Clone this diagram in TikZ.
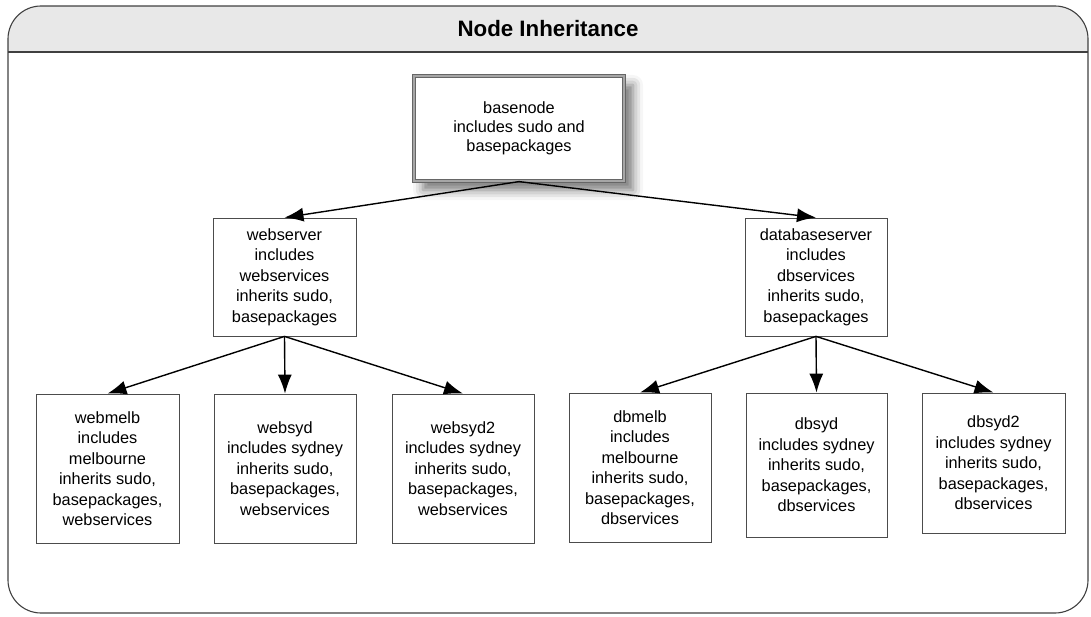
\documentclass[tikz,border=0pt]{standalone}
\usepackage{fontspec}
\setmainfont{Liberation Sans}
\usetikzlibrary{arrows.meta,shadows.blur}
\begin{document}
\begin{tikzpicture}[x=1pt,y=-1pt,
  box/.style={draw=black!70, line width=0.8pt, fill=white, inner sep=0pt, align=center,
    font=\fontsize{16.3}{20.5}\selectfont, text=black},
  basebox/.style={box, draw=black!60, line width=1.2pt, double=black!35, double distance=1.4pt,
    font=\fontsize{16.3}{19}\selectfont,
    blur shadow={shadow xshift=9pt, shadow yshift=-9pt, shadow blur radius=10pt, shadow opacity=55}},
  arr/.style={-{Latex[length=19pt,width=14pt]}, line width=1.4pt, black},
  frame/.style={draw=black!75, line width=1.1pt}]
\useasboundingbox (0,0) rectangle (1091,617);
% frame and header
\begin{scope}
  \clip[rounded corners=33pt] (8,6) rectangle (1088,613);
  \fill[black!9] (8,6) rectangle (1088,52);
\end{scope}
\draw[frame, rounded corners=33pt] (8,6) rectangle (1088,613);
\draw[frame] (8,52) -- (1088,52);
\node[font=\fontsize{22.3}{24}\selectfont\bfseries] (title) at (548,29) {Node Inheritance};
% nodes
\node[basebox, minimum width=210pt, minimum height=105pt] (base) at (519,128.5)
  {basenode\\includes sudo and\\basepackages};
\node[box, minimum width=143pt, minimum height=118pt] (web) at (284.5,277)
  {webserver\\includes\\webservices\\inherits sudo,\\basepackages};
\node[box, minimum width=142pt, minimum height=118pt] (db) at (816,277)
  {databaseserver\\includes\\dbservices\\inherits sudo,\\basepackages};
\node[box, minimum width=143pt, minimum height=149pt] (webmelb) at (107.5,468.5)
  {webmelb\\includes\\melbourne\\inherits sudo,\\basepackages,\\webservices};
\node[box, minimum width=142pt, minimum height=149pt] (websyd) at (285,468.5)
  {websyd\\includes sydney\\inherits sudo,\\basepackages,\\webservices};
\node[box, minimum width=142pt, minimum height=149pt] (websydb) at (463,468.5)
  {websyd2\\includes sydney\\inherits sudo,\\basepackages,\\webservices};
\node[box, minimum width=142pt, minimum height=149pt] (dbmelb) at (640,467.5)
  {dbmelb\\includes\\melbourne\\inherits sudo,\\basepackages,\\dbservices};
\node[box, minimum width=141pt, minimum height=144pt] (dbsyd) at (816.5,465)
  {dbsyd\\includes sydney\\inherits sudo,\\basepackages,\\dbservices};
\node[box, minimum width=143pt, minimum height=140pt] (dbsydb) at (993.5,463)
  {dbsyd2\\includes sydney\\inherits sudo,\\basepackages,\\dbservices};
% connectors
\draw[arr] (base.south) -- (web.north);
\draw[arr] (base.south) -- (db.north);
\draw[arr] (web.south) -- (webmelb.north);
\draw[arr] (web.south) -- (websyd.north);
\draw[arr] (web.south) -- (websydb.north);
\draw[arr] (db.south) -- (dbmelb.north);
\draw[arr] (db.south) -- (dbsyd.north);
\draw[arr] (db.south) -- (dbsydb.north);
\end{tikzpicture}
\end{document}
